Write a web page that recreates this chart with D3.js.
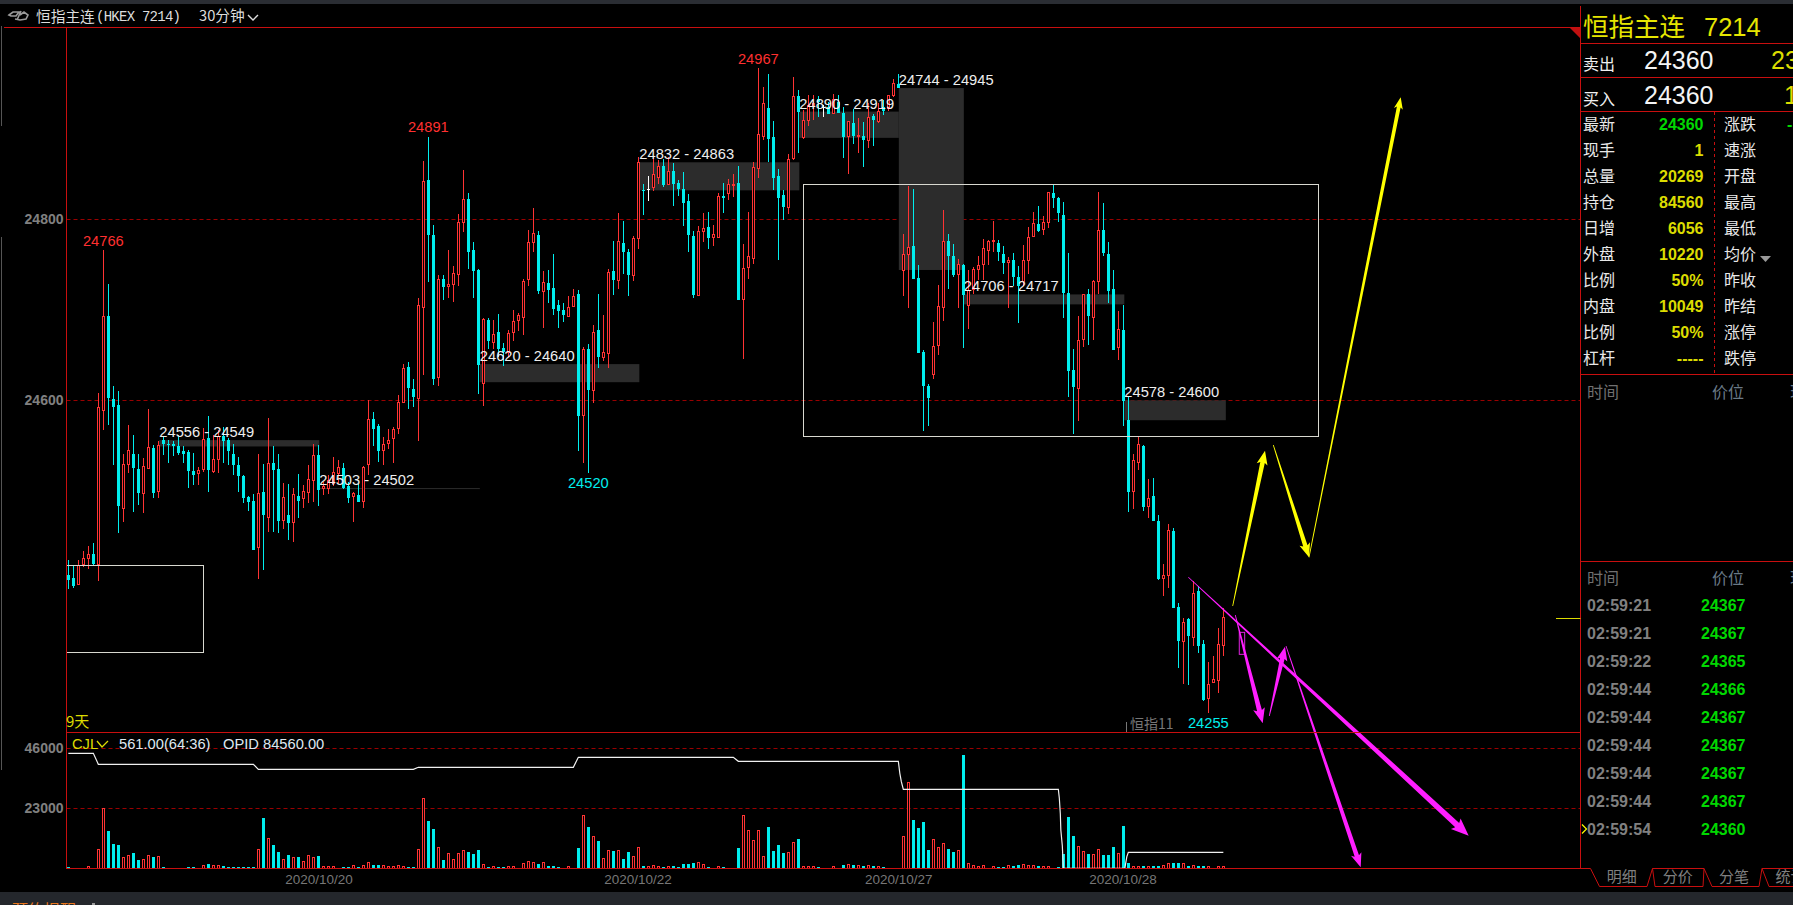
<!DOCTYPE html>
<html lang="zh">
<head>
<meta charset="UTF-8">
<title>恒指主连 7214 30分钟</title>
<script src="https://d3js.org/d3.v7.min.js"></script>
<style>
    html, body { margin: 0; padding: 0; background: #000; overflow: hidden; }
    svg { display: block; }
    text { font-family: "Liberation Sans", "Noto Sans CJK SC", sans-serif; }
    .cn { font-family: "Noto Sans CJK SC", "Liberation Sans", sans-serif; }
</style>
</head>
<body>
<div id="chart"></div>
<script>
// candles (index 0 = leftmost bar, 30 min each)
const opens = [
24407,24404,24396,24419,24425,24430,24419,24589,24693,24601,
24595,24480,24529,24541,24524,24497,24525,24547,24499,24556,
24552,24552,24549,24544,24543,24522,24519,24524,24558,24521,
24535,24561,24556,24541,24529,24516,24493,24489,24437,24499,
24471,24531,24524,24467,24473,24465,24494,24491,24498,24511,
24540,24502,24503,24508,24519,24525,24505,24494,24495,24488,
24529,24579,24572,24544,24552,24558,24569,24598,24637,24613,
24602,24702,24843,24783,24625,24734,24726,24728,24739,24796,
24822,24766,24744,24619,24689,24664,24675,24658,24653,24675,
24688,24692,24733,24774,24783,24720,24730,24724,24705,24700,
24693,24704,24717,24583,24657,24611,24678,24647,24652,24743,
24732,24774,24764,24738,24779,24832,24834,24835,24846,24859,
24839,24853,24840,24834,24820,24782,24716,24787,24791,24780,
24780,24826,24828,24837,24840,24711,24747,24757,24856,24892,
24923,24891,24848,24827,24813,24867,24936,24890,24909,24925,
24933,24924,24924,24917,24930,24918,24891,24906,24891,24892,
24887,24914,24908,24924,24922,24937,24950,24743,24761,24771,
24735,24653,24616,24629,24661,24703,24776,24760,24739,24749,
24705,24722,24744,24750,24765,24775,24774,24762,24752,24755,
24736,24731,24755,24781,24795,24789,24797,24829,24824,24805,
24719,24633,24613,24667,24718,24692,24731,24788,24762,24723,
24658,24678,24578,24499,24531,24550,24483,24494,24467,24403,
24406,24456,24372,24334,24358,24338,24389,24331,24270,24288,24290,24329];
const closes = [
24401,24395,24418,24425,24430,24419,24592,24693,24602,24593,
24483,24529,24544,24525,24498,24527,24548,24498,24550,24552,
24551,24549,24542,24541,24522,24517,24522,24557,24523,24535,
24560,24555,24544,24528,24516,24492,24488,24435,24497,24473,
24530,24523,24467,24493,24464,24496,24489,24499,24512,24539,
24501,24505,24511,24520,24526,24503,24492,24497,24488,24526,
24579,24568,24544,24551,24556,24568,24598,24635,24614,24604,
24705,24842,24783,24624,24734,24725,24728,24740,24797,24822,
24764,24743,24639,24689,24666,24673,24657,24653,24674,24687,
24694,24731,24774,24784,24721,24730,24722,24701,24699,24694,
24702,24715,24583,24656,24611,24675,24648,24653,24741,24733,
24776,24764,24738,24779,24863,24831,24834,24849,24858,24838,
24853,24839,24833,24818,24783,24716,24786,24790,24779,24783,
24825,24824,24839,24839,24711,24746,24759,24857,24894,24928,
24889,24846,24824,24814,24866,24936,24919,24909,24926,24928,
24930,24924,24916,24932,24918,24891,24908,24892,24893,24888,
24913,24910,24919,24920,24937,24950,24945,24761,24769,24734,
24652,24616,24603,24660,24704,24776,24760,24738,24750,24716,
24721,24744,24749,24768,24775,24777,24764,24752,24755,24736,
24726,24755,24780,24795,24787,24797,24830,24823,24807,24719,
24632,24615,24666,24717,24693,24731,24788,24763,24721,24656,
24678,24599,24499,24533,24551,24482,24491,24467,24403,24406,
24456,24371,24334,24355,24340,24387,24329,24269,24286,24291,24330,24360];
const highs = [
24424,24417,24424,24433,24439,24442,24608,24766,24729,24616,
24610,24541,24573,24562,24541,24536,24590,24551,24555,24560,
24556,24555,24562,24549,24545,24542,24526,24569,24583,24562,
24567,24571,24558,24552,24537,24518,24494,24497,24541,24530,
24580,24550,24541,24509,24508,24503,24519,24506,24529,24552,
24551,24510,24517,24537,24534,24531,24510,24499,24508,24527,
24600,24587,24574,24559,24568,24571,24606,24640,24642,24624,
24713,24864,24891,24794,24739,24738,24766,24748,24806,24855,
24829,24775,24745,24691,24691,24689,24695,24663,24678,24700,
24696,24734,24788,24813,24787,24743,24744,24762,24711,24707,
24715,24723,24722,24659,24662,24683,24718,24694,24745,24776,
24807,24798,24767,24781,24869,24839,24848,24869,24866,24867,
24869,24862,24843,24852,24828,24787,24793,24807,24808,24794,
24829,24840,24844,24850,24859,24773,24808,24863,24967,24946,
24961,24909,24856,24832,24872,24957,24943,24921,24937,24937,
24936,24926,24930,24938,24937,24924,24909,24922,24912,24908,
24928,24916,24928,24932,24937,24955,24961,24784,24837,24833,
24750,24656,24618,24687,24727,24810,24784,24773,24756,24751,
24744,24747,24759,24778,24777,24798,24777,24770,24758,24763,
24748,24772,24791,24808,24815,24804,24830,24838,24825,24819,
24763,24657,24693,24718,24723,24733,24830,24818,24775,24744,
24699,24705,24604,24541,24559,24551,24513,24514,24473,24419,
24463,24459,24376,24360,24359,24400,24395,24335,24311,24317,24348,24371];
const lows = [
24392,24393,24396,24416,24414,24418,24400,24567,24573,24529,
24453,24466,24520,24477,24484,24475,24524,24492,24492,24540,
24531,24538,24540,24531,24503,24506,24506,24521,24499,24520,
24520,24531,24529,24517,24499,24486,24478,24435,24403,24413,
24455,24455,24453,24458,24446,24443,24470,24481,24486,24488,
24483,24495,24497,24505,24507,24502,24487,24466,24488,24481,
24517,24550,24532,24528,24546,24531,24563,24598,24590,24593,
24555,24628,24731,24617,24616,24711,24713,24709,24726,24786,
24745,24713,24607,24594,24657,24657,24648,24638,24648,24665,
24677,24672,24726,24764,24718,24680,24707,24694,24680,24686,
24692,24704,24544,24531,24520,24597,24636,24643,24636,24716,
24723,24740,24715,24732,24767,24805,24820,24831,24839,24836,
24838,24815,24826,24793,24764,24713,24715,24775,24767,24770,
24780,24807,24821,24825,24711,24646,24734,24751,24846,24888,
24863,24832,24755,24799,24806,24866,24873,24889,24903,24910,
24913,24913,24916,24916,24918,24868,24850,24883,24873,24858,
24879,24881,24906,24915,24920,24935,24945,24715,24702,24734,
24652,24566,24572,24624,24650,24688,24723,24736,24702,24658,
24679,24718,24733,24733,24749,24764,24754,24740,24702,24726,
24685,24726,24740,24781,24786,24783,24790,24812,24797,24691,
24604,24563,24577,24659,24661,24667,24717,24760,24708,24656,
24644,24572,24477,24480,24523,24478,24470,24467,24401,24384,
24393,24371,24304,24287,24285,24329,24321,24268,24255,24288,24277,24317];
const volumes = [
510,0,0,0,510,0,7280,23000,14310,9330,
8950,4220,4730,5750,3200,3200,4730,4350,4350,510,
0,0,0,0,510,510,0,890,1660,890,
890,890,510,510,510,510,510,510,7280,19300,
11500,8950,6260,3200,5110,3960,4350,2430,4730,3960,
4730,510,510,510,0,510,510,890,510,890,
2040,1280,1280,890,510,510,890,510,510,510,
7280,26840,18150,15080,8050,3200,5500,3200,5500,6650,
6260,5500,7030,1280,510,510,510,510,510,510,
0,1660,2430,2040,1660,2040,890,890,510,0,
510,0,7800,20320,15850,12010,10480,3580,6650,6650,
6650,3580,6260,4350,7800,890,510,890,510,510,
510,890,510,1660,1660,2040,2040,1280,510,0,
510,510,0,0,7800,20320,14310,10480,14310,4350,
15850,6650,8950,5880,5880,9710,11250,510,510,510,
510,0,0,510,0,1280,1280,1280,890,890,
890,890,510,510,0,0,0,12010,32970,18530,
15460,17760,7030,10860,7800,9330,7410,6260,6650,43450,
1660,890,510,890,0,510,510,510,890,890,
1280,1280,890,890,890,510,510,0,510,5500,
19680,12400,8180,6260,5500,5110,7030,5110,5110,8180,
5500,16230,2040,510,510,890,510,890,890,890,
1660,2040,2040,1660,890,890,890,890,510,0,510,510];

// open interest line (breakpoints: bar index, estimated value)
const opidIdx = [0,5,6,37,38,69,70,101,102,133,134,166,166.3,166.6,167,198,198.2,198.4,198.5,198.8,199,211.3,211.7,212,231];
const opidVal = [104360,104360,102160,102160,101160,101160,101560,101560,103560,103560,102760,102760,100360,98690,97160,97160,95360,92230,89030,85830,81360,81360,83690,84560,84560];

// axis ticks
const priceTicks = [24800, 24600];
const volumeTicks = [46000, 23000];
const dateTickIdx = [50.05, 113.85, 166, 210.85];
const dateLabels = ["2020/10/20", "2020/10/22", "2020/10/27", "2020/10/28"];

// labelled highs and lows
const peakIdx = [7, 72, 138];
const troughIdx = [104, 228];

// grey supply/demand zones
const zoneStart = [18.2, 50.2, 82.3, 114.2, 146.2, 166.1, 179.1, 211.2];
const zoneEnd = [50.2, 82.3, 114.2, 146.2, 166.1, 179.1, 211.2, 231.5];
const zoneFrom = [24556, 24503, 24620, 24832, 24890, 24744, 24706, 24578];
const zoneTo = [24549, 24502, 24640, 24863, 24919, 24945, 24717, 24600];

// hand drawn boxes: start idx, end idx, top price, bottom price
const boxStart = [147, -0.4];
const boxEnd = [250, 27.07];
const boxTop = [24838.7, 24417.7];
const boxBottom = [24559.8, 24322];

// hand drawn arrows
const arrowFromIdx = [232.87, 240.99, 248.13, 224, 233.39, 240.19, 243.53];
const arrowFromPrice = [24372.7, 24550.6, 24426.5, 24404.4, 24362.8, 24251.2, 24328.5];
const arrowToIdx = [239.33, 248.13, 266.47, 280.07, 238.87, 243.33, 258.47];
const arrowToPrice = [24544.3, 24426.5, 24934.8, 24118.9, 24243.1, 24327.7, 24084];
const arrowColor = ["#ffff00", "#ffff00", "#ffff00", "#ff1eff", "#ff1eff", "#ff1eff", "#ff1eff"];
const arrowWidth = [4.6, 4.6, 3.8, 6, 5, 4.6, 4.6];

// right side quote panel
const quoteLeftLabels = ["最新", "现手", "总量", "持仓", "日增", "外盘", "比例", "内盘", "比例", "杠杆"];
const quoteLeftValues = ["24360", "1", "20269", "84560", "6056", "10220", "50%", "10049", "50%", "-----"];
const quoteRightLabels = ["涨跌", "速涨", "开盘", "最高", "最低", "均价", "昨收", "昨结", "涨停", "跌停"];
const tickTimes = ["02:59:21", "02:59:21", "02:59:22", "02:59:44", "02:59:44", "02:59:44", "02:59:44", "02:59:44", "02:59:54"];
const tickPrices = [24367, 24367, 24365, 24366, 24367, 24367, 24367, 24367, 24360];
const tabLabels = ["明细", "分价", "分笔", "统计"];
const lastPrice = 24360;

const W = 1793, H = 905;
const red = "#ff3333", cyan = "#00eeee", line = "#c80f0f", dash = "#9a0000";
const yellow = "#dcdc00", green = "#00d800", grey = "#808080";
const mainLeft = 66.5, panelRight = 1580.5, topLine = 27.5, mainBottom = 732.5, volBottom = 868.5;

const svg = d3.select("#chart").append("svg").attr("width", W).attr("height", H);

const x = d3.scaleLinear().domain([0, 1]).range([68.33, 73.33]);
const y = d3.scaleLinear().domain([24600, 24800]).range([400.3, 219.3]);
const yVol = d3.scaleLinear().domain([0, 46000]).range([868.3, 748.3]);
const yOpid = d3.scaleLinear().domain([81360, 104360]).range([868.3, 753.3]);
const px = i => Math.floor(x(i));

const candles = opens.map((o, i) => ({
    i, o, c: closes[i], h: highs[i], l: lows[i], v: volumes[i]
}));

// chrome
svg.append("rect").attr("width", W).attr("height", 4).attr("fill", "#2a2d33");
svg.append("rect").attr("y", 892).attr("width", W).attr("height", 13).attr("fill", "#24272c");
svg.append("path").attr("d", "M1.5,26V126M1.5,237V770").attr("stroke", "#555").attr("fill", "none");
svg.append("text").attr("class", "cn").attr("x", 12).attr("y", 916).attr("font-size", 16)
    .attr("fill", "#e8771e").text("预约提醒");
svg.append("rect").attr("x", 92).attr("y", 903).attr("width", 3).attr("height", 2).attr("fill", "#999");

// grid
const gridY = priceTicks.map(d => y(d)).concat(volumeTicks.map(d => yVol(d)));
svg.append("g").selectAll("line").data(gridY).enter().append("line")
    .attr("x1", mainLeft).attr("x2", panelRight)
    .attr("y1", d => Math.round(d) + 0.5).attr("y2", d => Math.round(d) + 0.5)
    .attr("stroke", dash).attr("stroke-dasharray", "4 3");

// zones under the bars
svg.append("g").selectAll("rect").data(zoneStart).enter().append("rect")
    .attr("x", (d, i) => x(d))
    .attr("width", (d, i) => x(zoneEnd[i]) - x(d))
    .attr("y", (d, i) => y(Math.max(zoneFrom[i], zoneTo[i])))
    .attr("height", (d, i) => Math.max(1, Math.abs(y(zoneFrom[i]) - y(zoneTo[i]))))
    .attr("fill", "#2c2c2c");

// candles
const candleColor = d => d.o === d.c ? "#ffffff" : (d.c > d.o ? red : cyan);
const cg = svg.append("g").attr("shape-rendering", "crispEdges");
cg.selectAll(".wick").data(candles).enter().append("line")
    .attr("class", "wick")
    .attr("x1", d => px(d.i) + 0.5).attr("x2", d => px(d.i) + 0.5)
    .attr("y1", d => y(d.h)).attr("y2", d => y(d.l))
    .attr("stroke", candleColor);
cg.selectAll(".body").data(candles).enter().append("rect")
    .attr("class", "body")
    .attr("x", d => d.c > d.o ? px(d.i) - 0.5 : px(d.i) - 1)
    .attr("width", d => d.c > d.o ? 2 : 3)
    .attr("y", d => y(Math.max(d.o, d.c)))
    .attr("height", d => Math.max(1, Math.abs(y(d.o) - y(d.c))))
    .attr("fill", d => d.c > d.o ? "#000" : candleColor(d))
    .attr("stroke", d => d.c > d.o ? red : "none");

// volume bars
const vg = svg.append("g").attr("shape-rendering", "crispEdges");
vg.selectAll("rect").data(candles.filter(d => d.v > 0)).enter().append("rect")
    .attr("x", d => d.c >= d.o ? px(d.i) - 0.5 : px(d.i) - 1)
    .attr("width", d => d.c >= d.o ? 2 : 3)
    .attr("y", d => yVol(d.v))
    .attr("height", d => yVol(0) - yVol(d.v))
    .attr("fill", d => d.c >= d.o ? "#000" : cyan)
    .attr("stroke", d => d.c >= d.o ? red : "none");

// open interest line
svg.append("path")
    .datum(opidIdx)
    .attr("fill", "none").attr("stroke", "#f0f0f0").attr("stroke-width", 1.2)
    .attr("d", d3.line().x(d => x(d)).y((d, i) => yOpid(opidVal[i])));

// drawn boxes
svg.append("g").selectAll("rect").data(boxStart).enter().append("rect")
    .attr("x", (d, i) => Math.round(x(d)) + 0.5)
    .attr("y", (d, i) => Math.round(y(boxTop[i])) + 0.5)
    .attr("width", (d, i) => Math.round(x(boxEnd[i]) - x(d)))
    .attr("height", (d, i) => Math.round(y(boxBottom[i]) - y(boxTop[i])))
    .attr("fill", "none").attr("stroke", "#d8d8d0");

// small magenta box and tapered arrows
svg.append("rect")
    .attr("x", x(234.19)).attr("width", x(235.27) - x(234.19))
    .attr("y", y(24343.6)).attr("height", y(24319.3) - y(24343.6))
    .attr("fill", "none").attr("stroke", "#e020e0");

function arrowPath(x0, y0, x1, y1, w) {
    const len = Math.hypot(x1 - x0, y1 - y0);
    const ux = (x1 - x0) / len, uy = (y1 - y0) / len;
    const nx = -uy, ny = ux;
    const hl = 2.6 * w, hw = 1.2 * w;
    const bx = x1 - ux * hl, by = y1 - uy * hl;
    const p = (a, b) => `${a.toFixed(1)},${b.toFixed(1)}`;
    return "M" + [
        p(x0 + nx * 0.4, y0 + ny * 0.4),
        p(bx + nx * w / 2, by + ny * w / 2),
        p(bx + nx * hw - ux * 2, by + ny * hw - uy * 2),
        p(x1, y1),
        p(bx - nx * hw - ux * 2, by - ny * hw - uy * 2),
        p(bx - nx * w / 2, by - ny * w / 2),
        p(x0 - nx * 0.4, y0 - ny * 0.4)
    ].join("L") + "Z";
}
svg.append("g").selectAll("path").data(arrowFromIdx).enter().append("path")
    .attr("d", (d, i) => arrowPath(x(d), y(arrowFromPrice[i]), x(arrowToIdx[i]), y(arrowToPrice[i]), arrowWidth[i]))
    .attr("fill", (d, i) => arrowColor[i]);

// panel frame
const frame = svg.append("g").attr("stroke", line).attr("fill", "none").attr("shape-rendering", "crispEdges");
frame.append("path").attr("d", `M4,${topLine}H${panelRight}`);
frame.append("path").attr("d", `M${mainLeft},${topLine}V${volBottom}H${panelRight}`);
frame.append("path").attr("d", `M${mainLeft},${mainBottom}H${panelRight}`);
frame.append("path").attr("d", `M${panelRight},6V${volBottom}`);
svg.append("path").attr("d", `M1570,28H1580V38Z`).attr("fill", "#c01010");

// axes
const priceAxis = svg.append("g").attr("transform", `translate(${mainLeft},0)`)
    .call(d3.axisLeft(y).tickValues(priceTicks).tickSize(0).tickPadding(3).tickFormat(d3.format("d")));
const volAxis = svg.append("g").attr("transform", `translate(${mainLeft},0)`)
    .call(d3.axisLeft(yVol).tickValues(volumeTicks).tickSize(0).tickPadding(3).tickFormat(d3.format("d")));
const dateAxis = svg.append("g").attr("transform", `translate(0,${volBottom})`)
    .call(d3.axisBottom(x).tickValues(dateTickIdx).tickSize(0).tickPadding(6)
        .tickFormat(d => dateLabels[dateTickIdx.indexOf(d)]));
[priceAxis, volAxis, dateAxis].forEach(a => a.select(".domain").remove());
[priceAxis, volAxis].forEach(a => a.selectAll("text")
    .attr("fill", grey).attr("font-size", 14).attr("font-weight", "bold")
    .attr("font-family", "Liberation Sans"));
dateAxis.selectAll("text").attr("fill", "#777").attr("font-size", 13.5).attr("font-family", "Liberation Sans");

// peak / trough labels
svg.append("g").selectAll("text").data(peakIdx).enter().append("text")
    .attr("x", d => x(d)).attr("y", d => y(highs[d]) - 4.5)
    .attr("text-anchor", "middle").attr("font-size", 14.7).attr("fill", "#ff3030")
    .text(d => highs[d]);
svg.append("g").selectAll("text").data(troughIdx).enter().append("text")
    .attr("x", d => x(d)).attr("y", d => y(lows[d]) + 15)
    .attr("text-anchor", "middle").attr("font-size", 14.7).attr("fill", cyan)
    .text(d => lows[d]);

// zone labels
svg.append("g").selectAll("text").data(zoneStart).enter().append("text")
    .attr("x", d => x(d))
    .attr("y", (d, i) => y(Math.max(zoneFrom[i], zoneTo[i])) - 3)
    .attr("font-size", 14.7).attr("fill", "#eeeeee")
    .text((d, i) => `${zoneFrom[i]} - ${zoneTo[i]}`);

// last price marker
svg.append("line").attr("x1", 1556).attr("x2", panelRight)
    .attr("y1", Math.round(y(lastPrice)) + 0.5).attr("y2", Math.round(y(lastPrice)) + 0.5)
    .attr("stroke", yellow);

// header
svg.append("path")
    .attr("d", "M9,15L13,12H19L16,16H11ZM15,19L20,20L26,19L28,15L24,12L20,15M17,20L21,11")
    .attr("fill", "none").attr("stroke", "#9a9a9a").attr("stroke-width", 1.6);
svg.append("text").attr("class", "cn").attr("x", 36).attr("y", 22).attr("font-size", 14.7)
    .attr("fill", "#dddddd").text("恒指主连");
svg.append("text").attr("x", 96).attr("y", 21).attr("font-size", 14).attr("fill", "#dddddd")
    .style("font-family", "Liberation Mono")
    .attr("textLength", 85).text("(HKEX 7214)");
svg.append("text").attr("class", "cn").attr("x", 199).attr("y", 21).attr("font-size", 14.7)
    .attr("fill", "#dddddd").text("30分钟");
svg.append("path").attr("d", "M248,15L253,20L258,15").attr("fill", "none").attr("stroke", "#dddddd").attr("stroke-width", 1.4);

// sub chart header and labels
svg.append("text").attr("class", "cn").attr("x", 66).attr("y", 727).attr("font-size", 15)
    .attr("fill", yellow).text("9天");
svg.append("text").attr("x", 72).attr("y", 749).attr("font-size", 14.7).attr("fill", yellow).text("CJL");
svg.append("path").attr("d", "M97,741L102,747L108,741").attr("fill", "none").attr("stroke", yellow).attr("stroke-width", 1.3);
svg.append("text").attr("x", 119).attr("y", 749).attr("font-size", 14.7).attr("fill", "#dfe8f0").text("561.00(64:36)");
svg.append("text").attr("x", 223).attr("y", 749).attr("font-size", 14.7).attr("fill", "#dfe8f0").text("OPID 84560.00");
svg.append("text").attr("class", "cn").attr("x", 1130).attr("y", 729).attr("font-size", 14)
    .attr("fill", "#777").text("恒指11");
svg.append("line").attr("x1", 1126.5).attr("x2", 1126.5).attr("y1", 722).attr("y2", 732).attr("stroke", "#777");

// quote panel
const panel = svg.append("g");
const panelLines = [43.5, 77.5, 111.5, 374.5, 561.5];
panel.selectAll(".hline").data(panelLines).enter().append("line")
    .attr("class", "hline").attr("x1", panelRight).attr("x2", W)
    .attr("y1", d => d).attr("y2", d => d).attr("stroke", line);
panel.append("line").attr("x1", 1714.5).attr("x2", 1714.5).attr("y1", 112).attr("y2", 374)
    .attr("stroke", line).attr("stroke-dasharray", "3 3");

panel.append("text").attr("class", "cn").attr("x", 1583).attr("y", 36).attr("font-size", 25.5)
    .attr("fill", "#e6e600").text("恒指主连");
panel.append("text").attr("x", 1704).attr("y", 36).attr("font-size", 25.5)
    .attr("fill", "#e6e600").text("7214");

panel.append("text").attr("class", "cn").attr("x", 1583).attr("y", 70).attr("font-size", 16).attr("fill", "#f0f0f0").text("卖出");
panel.append("text").attr("class", "cn").attr("x", 1583).attr("y", 105).attr("font-size", 16).attr("fill", "#f0f0f0").text("买入");
panel.append("text").attr("x", 1644).attr("y", 69).attr("font-size", 25).attr("fill", "#f4f4f4").text("24360");
panel.append("text").attr("x", 1644).attr("y", 104).attr("font-size", 25).attr("fill", "#f4f4f4").text("24360");
panel.append("text").attr("x", 1771).attr("y", 69).attr("font-size", 25).attr("fill", yellow).text("23");
panel.append("text").attr("x", 1784).attr("y", 104).attr("font-size", 25).attr("fill", yellow).text("1");

const rowY = i => 124 + i * 26;
panel.selectAll(".ql").data(quoteLeftLabels).enter().append("text")
    .attr("class", "cn").attr("x", 1583).attr("y", (d, i) => rowY(i)).attr("dy", "0.36em")
    .attr("font-size", 16).attr("fill", "#e8e8e8").text(d => d);
panel.selectAll(".qv").data(quoteLeftValues).enter().append("text")
    .attr("x", 1703.5).attr("y", (d, i) => rowY(i)).attr("dy", "0.36em")
    .attr("text-anchor", "end").attr("font-size", 16).attr("font-weight", "bold")
    .attr("fill", (d, i) => i === 0 ? green : yellow).text(d => d);
panel.selectAll(".qr").data(quoteRightLabels).enter().append("text")
    .attr("class", "cn").attr("x", 1724).attr("y", (d, i) => rowY(i)).attr("dy", "0.36em")
    .attr("font-size", 16).attr("fill", "#e8e8e8").text(d => d);
panel.append("path").attr("d", "M1760,256H1771L1765.5,262Z").attr("fill", "#999");
panel.append("text").attr("x", 1787).attr("y", rowY(0)).attr("dy", "0.36em")
    .attr("font-size", 16).attr("font-weight", "bold").attr("fill", green).text("-");

// trade lists
[392, 578].forEach(h => {
    panel.append("text").attr("class", "cn").attr("x", 1587).attr("y", h).attr("dy", "0.36em")
        .attr("font-size", 16).attr("fill", "#707070").text("时间");
    panel.append("text").attr("class", "cn").attr("x", 1712).attr("y", h).attr("dy", "0.36em")
        .attr("font-size", 16).attr("fill", "#6a7a88").text("价位");
    panel.append("text").attr("class", "cn").attr("x", 1790).attr("y", h).attr("dy", "0.36em")
        .attr("font-size", 16).attr("fill", "#6a7a88").text("现手");
});
const tickY = i => 605 + i * 28;
panel.selectAll(".tt").data(tickTimes).enter().append("text")
    .attr("x", 1587).attr("y", (d, i) => tickY(i)).attr("dy", "0.36em")
    .attr("font-size", 16).attr("font-weight", "bold").attr("fill", grey).text(d => d);
panel.selectAll(".tp").data(tickPrices).enter().append("text")
    .attr("x", 1701).attr("y", (d, i) => tickY(i)).attr("dy", "0.36em")
    .attr("font-size", 16).attr("font-weight", "bold").attr("fill", green).text(d => d);
panel.append("path").attr("d", "M1582,824.5L1586.5,829L1582,833.5").attr("fill", "none").attr("stroke", "#ffff00").attr("stroke-width", 1.2);

// tabs
panel.append("path")
    .attr("d", "M1580,868.5H1590.5L1599.5,886.5H1647L1652.5,868.5L1655,886.5H1703L1704,868.5L1712,886.5H1759L1762,868.5L1769,886.5H1793M1652.5,868.5H1704M1762,868.5H1793")
    .attr("fill", "none").attr("stroke", line);
const tabX = [1621.7, 1677.7, 1734, 1775.5];
panel.selectAll(".tab").data(tabLabels).enter().append("text")
    .attr("class", "cn").attr("x", (d, i) => tabX[i]).attr("y", 877).attr("dy", "0.36em")
    .attr("text-anchor", (d, i) => i < 3 ? "middle" : "start")
    .attr("font-size", 15).attr("fill", "#808080").text(d => d);
</script>
</body>
</html>
